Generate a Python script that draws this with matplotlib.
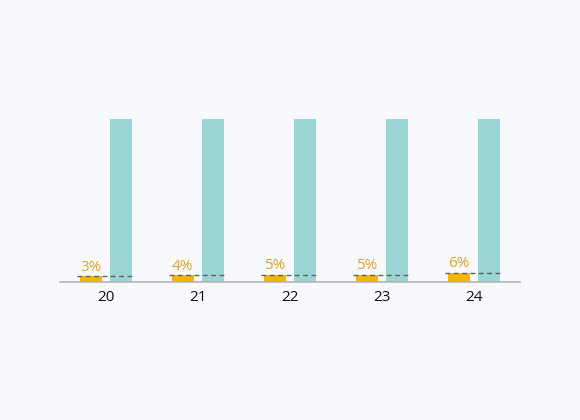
import matplotlib
matplotlib.use("Agg")
import matplotlib.pyplot as plt
import numpy as np

categories = ['20', '21', '22', '23', '24']
share = [3.4, 4.2, 4.6, 4.5, 5.8]
share_labels = ['3%', '4%', '5%', '5%', '6%']
total = [100, 100, 100, 100, 100]

bg = '#f7f9fd'
orange = '#f5b400'
teal = '#99d6d4'
label_col = '#d9a530'

fig = plt.figure(figsize=(5.8, 4.2), dpi=100, facecolor=bg)
# axes: x 60..520 px, y baseline 282 px, top (100) at 119 px
ax = fig.add_axes([60 / 580, 1 - 282 / 420, 460 / 580, (282 - 119) / 420])
ax.set_facecolor(bg)

x = np.arange(len(categories))
w = 0.24
off = 0.168
ax.bar(x - off, share, width=w, color=orange, zorder=2)
ax.bar(x + off, total, width=w, color=teal, zorder=2)

# dashed reference line at top of each small bar
for xi, v, lab in zip(x, share, share_labels):
    ax.plot([xi - 0.32, xi + 0.32], [v, v], ls=(0, (3.5, 2.5)), color='#606060',
            lw=1, zorder=3)
    ax.text(xi - off, v + 3.3, lab, ha='center', va='baseline', color=label_col,
            fontsize=11, family='Open Sans')

ax.set_xlim(-0.5, len(categories) - 0.5)
ax.set_ylim(0, 100)
ax.set_xticks(x)
ax.set_xticklabels(categories, fontsize=11, family='Open Sans', color='#111111')
ax.tick_params(axis='x', length=0, pad=6)
ax.set_yticks([])
for s in ['top', 'right', 'left']:
    ax.spines[s].set_visible(False)
ax.spines['bottom'].set_color('#b5b5b8')
ax.spines['bottom'].set_linewidth(1.2)
ax.spines['bottom'].set_zorder(4)

fig.savefig('out.png', dpi=100, facecolor=bg)
